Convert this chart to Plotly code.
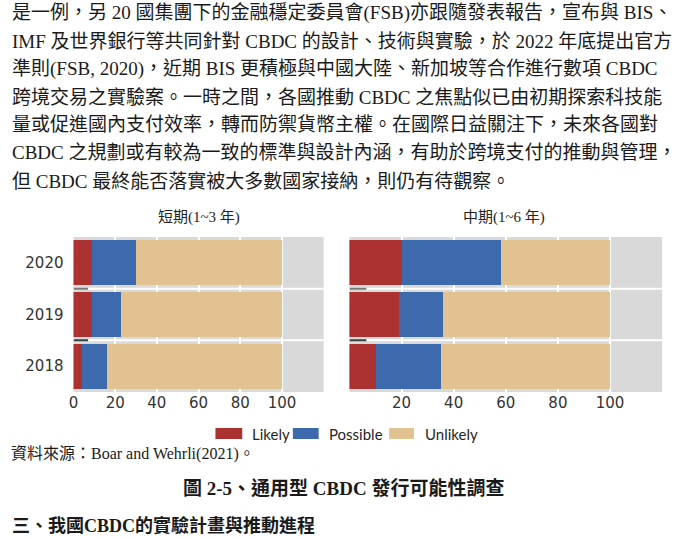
import plotly.graph_objects as go

# ---------------- data ----------------
years = ["2018", "2019", "2020"]
series_names = ["Likely", "Possible", "Unlikely"]
series_colors = ["#AC3232", "#3C6AAC", "#E3C292"]

short_likely = [4, 9, 9]
short_possible = [12, 14, 21]
short_unlikely = [84, 77, 70]

mid_likely = [10, 19, 20]
mid_possible = [25, 17, 38]
mid_unlikely = [65, 64, 42]

short_ticks = [0, 20, 40, 60, 80, 100]
mid_ticks = [20, 40, 60, 80, 100]

panel_titles = ["短期(1~3 年)", "中期(1~6 年)"]

body_lines = [
    "是一例，另 20 國集團下的金融穩定委員會(FSB)亦跟隨發表報告，宣布與 BIS、",
    "IMF 及世界銀行等共同針對 CBDC 的設計、技術與實驗，於 2022 年底提出官方",
    "準則(FSB, 2020)，近期 BIS 更積極與中國大陸、新加坡等合作進行數項 CBDC",
    "跨境交易之實驗案。一時之間，各國推動 CBDC 之焦點似已由初期探索科技能",
    "量或促進國內支付效率，轉而防禦貨幣主權。在國際日益關注下，未來各國對",
    "CBDC 之規劃或有較為一致的標準與設計內涵，有助於跨境支付的推動與管理，",
    "但 CBDC 最終能否落實被大多數國家接納，則仍有待觀察。",
]
source_text = "資料來源：Boar and Wehrli(2021)。"
caption_text = "圖 2-5、通用型 CBDC 發行可能性調查"
section_text = "三、我國CBDC的實驗計畫與推動進程"

# ---------------- layout helpers ----------------
W, H = 678, 539
def px(x):
    return x / W
def py(y):
    return 1 - y / H

TEXT_FONT = "Liberation Serif, Noto Sans CJK TC"
TICK_FONT = dict(family="DejaVu Sans", size=15, color="#333333")
BG = "#D9D9D9"

fig = go.Figure()

short_vals = [short_likely, short_possible, short_unlikely]
mid_vals = [mid_likely, mid_possible, mid_unlikely]

for name, color, vals in zip(series_names, series_colors, short_vals):
    fig.add_trace(go.Bar(y=years, x=vals, name=name, orientation="h",
                         marker=dict(color=color, line=dict(width=0)),
                         xaxis="x", yaxis="y", showlegend=False,
                         hoverinfo="x+y+name"))
for name, color, vals in zip(series_names, series_colors, mid_vals):
    fig.add_trace(go.Bar(y=years, x=vals, name=name, orientation="h",
                         marker=dict(color=color, line=dict(width=0)),
                         xaxis="x2", yaxis="y2", showlegend=False,
                         hoverinfo="x+y+name"))

plot_top, plot_bot = 237, 392
ydom = [py(plot_bot), py(plot_top)]

xcommon = dict(range=[0, 120], showgrid=True, gridcolor="white", gridwidth=2,
               zeroline=False, showline=False, ticks="", tickfont=TICK_FONT,
               fixedrange=True)
ycommon = dict(type="category", categoryorder="array", categoryarray=years,
               showgrid=False, zeroline=False, showline=False, ticks="",
               tickfont=TICK_FONT, fixedrange=True)

fig.update_layout(
    width=W, height=H,
    margin=dict(l=0, r=0, t=0, b=0),
    paper_bgcolor="white",
    plot_bgcolor=BG,
    barmode="stack",
    bargap=0.13,
    xaxis=dict(domain=[px(69), px(321)], anchor="y", tickvals=short_ticks, **xcommon),
    yaxis=dict(domain=ydom, anchor="x", ticklabelstandoff=9, **ycommon),
    xaxis2=dict(domain=[px(347), px(662)], anchor="y2", tickvals=mid_ticks, **xcommon),
    yaxis2=dict(domain=ydom, anchor="x2", showticklabels=False, **ycommon),
)

shapes = []
# white separators between category rows, and small grey dashes at left
for xr, yr, dash_len in [("x", "y", 7), ("x2", "y2", 6.5)]:
    for yb, dcol in [(0.5, "#3A3A3A"), (1.5, "#7A7A7A")]:
        shapes.append(dict(type="line", xref=xr + " domain", yref=yr,
                           x0=0, x1=1, y0=yb, y1=yb,
                           line=dict(color="white", width=2), layer="below"))
        shapes.append(dict(type="line", xref=xr, yref=yr,
                           x0=0, x1=dash_len, y0=yb, y1=yb,
                           line=dict(color=dcol, width=2), layer="above"))

# custom legend (swatches + labels)
legend_sw = [(212, 239), (290, 316), (387, 412)]
legend_tx = [247, 324, 421]
annotations = []
for (x0, x1), tx, name, color in zip(legend_sw, legend_tx, series_names, series_colors):
    shapes.append(dict(type="rect", xref="paper", yref="paper",
                       x0=px(x0), x1=px(x1), y0=py(439), y1=py(428),
                       fillcolor=color, line=dict(width=0)))
    annotations.append(dict(text=name, x=px(tx), y=py(433.5), xref="paper", yref="paper",
                            xanchor="left", yanchor="middle", showarrow=False,
                            font=dict(family="Lato", size=15, color="#262626")))

# panel titles
for t, cx in zip(panel_titles, [195, 503]):
    annotations.append(dict(text=t, x=px(cx), y=py(218), xref="paper", yref="paper",
                            xanchor="center", yanchor="middle", showarrow=False,
                            font=dict(family=TEXT_FONT, size=15, color="#222222")))

# body text
line_y = [13, 41, 69, 97, 125, 153, 181.5]
for t, yy in zip(body_lines, line_y):
    annotations.append(dict(text=t, x=px(5), y=py(yy), xref="paper", yref="paper",
                            xanchor="left", yanchor="middle", showarrow=False,
                            font=dict(family=TEXT_FONT, size=19, color="#1a1a1a")))

annotations.append(dict(text=source_text, x=px(4), y=py(454), xref="paper", yref="paper",
                        xanchor="left", yanchor="middle", showarrow=False,
                        font=dict(family=TEXT_FONT, size=16, color="#1a1a1a")))
annotations.append(dict(text="<b>" + caption_text + "</b>", x=px(341), y=py(488),
                        xref="paper", yref="paper", xanchor="center", yanchor="middle",
                        showarrow=False,
                        font=dict(family=TEXT_FONT, size=19, color="#1a1a1a")))
annotations.append(dict(text="<b>" + section_text + "</b>", x=px(5), y=py(538),
                        xref="paper", yref="paper", xanchor="left", yanchor="bottom",
                        showarrow=False,
                        font=dict(family=TEXT_FONT, size=18, color="#1a1a1a")))

fig.update_layout(shapes=shapes, annotations=annotations)

fig.write_html("out.html")
